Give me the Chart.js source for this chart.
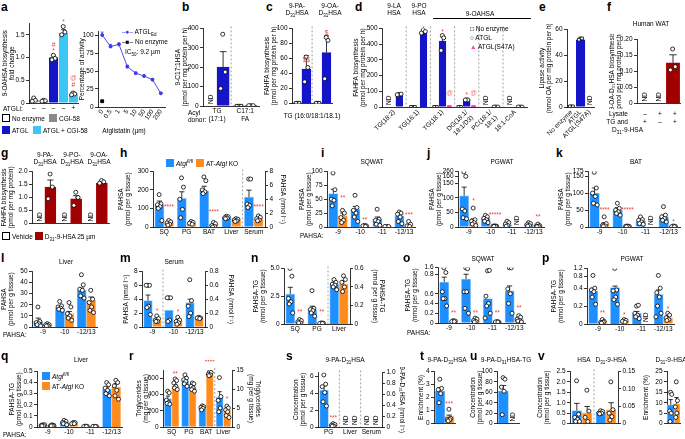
<!DOCTYPE html>
<html><head><meta charset="utf-8">
<script src="https://cdn.jsdelivr.net/npm/chart.js@4.4.0/dist/chart.umd.min.js"></script>
<style>
body{margin:0;width:685px;height:439px;position:relative;background:#fff;font-family:"Liberation Sans",Arial,sans-serif;overflow:hidden}
canvas{position:absolute}
.t{position:absolute;font-size:6.5px;color:#000;white-space:nowrap;line-height:1.15}
.L{position:absolute;font-size:12px;font-weight:bold;line-height:1}
sub,sup{font-size:4.5px}
</style></head><body>
<script>
// ---- data ----
const PA = ['-9', '-10', '-11', '-12/13'];

const aCats = ['–', '–', '–', '–', '+'];
const aVals = [0.06, 0.05, 1.0, 1.53, 0.2];
const aErr = [0.02, 0.01, 0.05, 0.08, 0.03];
const aPts = [[0.11, 0.06, 0.04], [0.06, 0.05, 0.04], [1.05, 0.98, 0.95], [1.68, 1.56, 1.5], [0.22, 0.2, 0.18]];
const aDose = ['0', '0.5', '1', '5', '10', '50', '100', '200'];
const aAct = [100, 84, 87, 56, 47, 43, 38, 19];
const aActErr = [4, 3, 2, 2, 1.5, 1.5, 1.5, 1];
const aNoEnz = [8, null, null, null, null, null, null, null];

const bCats = [['TG', '(17:1)'], ['C17:1', 'FA']];
const bNoEnz = ['ND', 1], bNoEnzPts = [null, [1, 1, 1]];
const bAtgl = [200, 2], bAtglErr = [80, 0], bAtglPts = [[370, 175, 90], [2, 2, 2]];

const cCats = ['', ''];
const cNoEnz = [1, 1], cNoEnzPts = [[1, 1, 1], [1, 1, 1]];
const cAtgl = [46, 68], cAtglErr = [18, 22], cAtglPts = [[62, 48, 29], [88, 84, 33]];

const dCats = ['TG(18:2)', 'TG(16:1)', 'TG(18:1)', ['DG(18:1/', '18:1/D3)'], ['PC(18:1/', '18:1)'], '18:1-CoA'];
const dNoEnz = ['ND', 0, 0, 0, 'ND', 'ND'];
const dNoEnzPts = [null, [0, 0, 0], [0, 0, 0], [0, 0, 0], null, null];
const dAtgl = [80, 475, 420, 45, 0, 0];
const dAtglErr = [3, 8, 25, 3, 0, 0];
const dAtglPts = [[80, 82, 78], [490, 480, 470], [455, 440, 360], [45, 45, 45], [0, 0, 0], [0, 0, 0]];
const dS47A = [null, null, 0, 0, null, null];
const dS47APts = [null, null, [0, 0, 0], [0, 0, 0], null, null];

const eCats = ['No enzyme', 'ATGL', 'ATGL(S47A)'];
const eVals = [0.4, 52, 'ND'], eErr = [0, 1, 0], ePts = [[0.4, 0.4, 0.4], [53, 53, 52], null];

const fCats = ['', '', ''];
const fVals = ['ND', 'ND', 0.127], fErr = [0, 0, 0.025], fPts = [null, null, [0.17, 0.115, 0.105]];

const gCats = ['', '', ''];
const gVeh = ['ND', 'ND', 'ND'];
const gD31 = [1.4, 0.95, 1.55], gD31Err = [0.27, 0.12, 0.05];
const gD31Pts = [[1.9, 1.4, 0.95], [1.2, 1.0, 0.7], [1.65, 1.6, 1.55]];

const hCats = ['SQ', 'PG', 'BAT', 'Liver', 'Serum'];
const hFlox = [120, 155, 195, 52, 4.3], hFloxErr = [20, 35, 25, 4, 1.0];
const hFloxPts = [[175, 125, 120, 110, 100, 35], [265, 215, 150, 95, 50], [270, 250, 200, 190, 180], [58, 55, 50, 48, 45], [6.9, 6.9, 3.3, 3.1, 2.8]];
const hKO = [25, 22, 15, 40, 1.2], hKOErr = [5, 4, 5, 4, 0.15];
const hKOPts = [[35, 28, 22, 15, 10], [30, 25, 20, 15], [25, 18, 8, 3, 0], [45, 42, 38, 33, 30], [1.6, 1.4, 1.2, 1.0, 0.9]];

const iFlox = [60, 32, 14, 20], iFloxErr = [8, 5, 4, 3];
const iFloxPts = [[97, 67, 50, 48, 38], [57, 35, 30, 25, 18, 10], [32, 14, 12, 10, 5, 3], [27, 25, 23, 18, 10, 6]];
const iKO = [20, 2, 1, 3], iKOErr = [5, 0.5, 0.3, 1.5];
const iKOPts = [[30, 25, 17, 12, 8], [3, 2, 2, 1], [1, 1, 1], [10, 5, 2, 1]];

const jFlox = [107, 30, 8, 10], jFloxErr = [30, 5, 3, 3];
const jFloxPts = [[250, 160, 62, 55, 32, 28], [40, 35, 30, 25, 20, 15], [20, 15, 10, 5, 3], [15, 12, 8, 5, 3]];
const jKO = [18, 3, 'ND', 4], jKOErr = [10, 0.5, 0, 2];
const jKOPts = [[65, 25, 20, 15, 10, 5], [4, 3, 3, 2, 2], null, [10, 5, 3, 2, 1]];

const kFlox = [100, 50, 18, 30], kFloxErr = [15, 7, 4, 5];
const kFloxPts = [[170, 115, 100, 90, 70, 65], [70, 55, 50, 45, 40, 35], [30, 22, 20, 15, 10, 8], [60, 35, 30, 25, 20, 15]];
const kKO = [8, 2, 'ND', 2], kKOErr = [5, 0.5, 0, 0.5];
const kKOPts = [[30, 10, 5, 3, 2], [3, 2, 2, 1, 1], null, [3, 2, 1, 1]];

const lCats = ['-9', '-10', '-12/13'];
const lFlox = [5, 17, 33], lFloxErr = [3, 1.5, 2];
const lFloxPts = [[18, 5, 4, 3, 2, 1], [23, 19, 18, 17, 16, 15], [47, 38, 34, 33, 28, 26]];
const lKO = [2, 12, 24], lKOErr = [0.5, 2, 3];
const lKOPts = [[3, 2, 2, 1, 1], [22, 18, 12, 10, 8, 6], [33, 25, 22, 18, 15, 13]];

const mCats = ['-9', '-10', '-12/13'];
const mFlox = [3.8, 0.24, 0.35], mFloxErr = [0.8, 0, 0.05];
const mFloxPts = [[6, 6, 6, 3, 2.8, 1.8], [0.42, 0.42, 0.42, 0.1, 0.08], [0.68, 0.38, 0.3, 0.2, 0.15]];
const mKO = [1.0, 0.08, 0.13], mKOErr = [0.2, 0.03, 0.01];
const mKOPts = [[1.6, 1.2, 1.0, 0.8, 0.8], [0.14, 0.1, 0.08, 0.06, 0.04], [0.14, 0.13, 0.13, 0.12]];

const nCats = ['SQ', 'PG', 'Liver'];
const nFlox = [2.7, 1.3, 0.43], nFloxErr = [0.6, 0.3, 0.02];
const nFloxPts = [[5.0, 4.3, 2.3, 2.0, 1.8, 1.0], [3.0, 1.4, 1.3, 1.2, 1.0, 0.7], [0.48, 0.45, 0.43, 0.42, 0.4, 0.37]];
const nKO = [0.2, 0.05, 0.43], nKOErr = [0.05, 0.01, 0.04];
const nKOPts = [[0.4, 0.3, 0.2, 0.1, 0.1], [0.1, 0.08, 0.05, 0.05], [0.52, 0.48, 0.45, 0.4, 0.35]];

const oFlox = [0.72, 0.75, 0.5, 0.63], oFloxErr = [0.05, 0.05, 0, 0.05];
const oFloxPts = [[1.55, 1.0, 0.62, 0.5, 0.5, 0.35], [1.55, 1.45, 0.62, 0.62, 0.3, 0.2], [1.2, 1.25, 0.55, 0.4, 0.35, 0.2, 0.1], [1.55, 1.55, 0.65, 0.6, 0.4, 0.2]];
const oKO = [0.04, 0.05, 0.02, 0.08], oKOErr = [0.01, 0.01, 0, 0.02];
const oKOPts = [[0.05, 0.04, 0.03, 0.03], [0.1, 0.08, 0.05, 0.03, 0.02], [0.03, 0.02, 0.02, 0.02], [0.15, 0.12, 0.08, 0.05, 0.04, 0.02]];

const pFlox = [0.37, 0.42, 0.12, 0.33], pFloxErr = [0.03, 0.05, 0.02, 0.05];
const pFloxPts = [[0.85, 0.4, 0.38, 0.36, 0.3, 0.22], [1.2, 0.38, 0.37, 0.3, 0.27, 0.22], [0.2, 0.21, 0.12, 0.1, 0.08, 0.06], [0.85, 0.4, 0.35, 0.3, 0.2, 0.12, 0.08]];
const pKO = [0.03, 0.03, 'ND', 0.07], pKOErr = [0.01, 0.01, 0, 0.02];
const pKOPts = [[0.05, 0.03, 0.02, 0.02, 0.01], [0.05, 0.04, 0.03, 0.02], null, [0.12, 0.1, 0.07, 0.05, 0.04]];

const qFlox = [0.015, 0.04, 0.005, 0.34], qFloxErr = [0.003, 0.01, 0.001, 0.02];
const qFloxPts = [[0.02, 0.02, 0.015, 0.01, 0.01], [0.06, 0.05, 0.04, 0.03, 0.03, 0.02], [0.008, 0.006, 0.005, 0.004], [0.4, 0.38, 0.35, 0.33, 0.3, 0.28]];
const qKO = [0.012, 0.035, 0.005, 0.36], qKOErr = [0.003, 0.005, 0.001, 0.03];
const qKOPts = [[0.02, 0.015, 0.01, 0.01, 0.01], [0.04, 0.04, 0.03, 0.03], [0.006, 0.005, 0.005, 0.004], [0.42, 0.4, 0.37, 0.33, 0.28, 0.25]];

const rCats = ['SQ', 'PG', 'BAT', 'Liver'];
const rFlox = [350, 570, 230, 7.8], rFloxErr = [30, 25, 10, 1.5];
const rFloxPts = [[440, 420, 330, 300, 290, 280], [640, 600, 580, 560, 530, 500], [260, 250, 240, 230, 210], [13, 8, 7, 5, 4]];
const rKO = [500, 490, 640, 4.3], rKOErr = [25, 15, 10, 0.5];
const rKOPts = [[590, 570, 540, 500, 480, 460], [540, 530, 500, 480, 460, 440], [680, 670, 650, 640, 630], [5.5, 5, 4.5, 4, 3, 2.5]];

const sCats = ['PG', 'Liver', 'Serum'];
const sFlox = [4.4, 'ND', 'ND'], sFloxErr = [0.5, 0, 0], sFloxPts = [[6.2, 5.1, 4.8, 4.1, 3.0, 2.5], null, null];
const sKO = [0.2, 'ND', 'ND'], sKOErr = [0.05, 0, 0], sKOPts = [[0.4, 0.3, 0.2, 0.1, 0.1], null, null];

const tFlox = [2.5], tFloxErr = [0.25], tFloxPts = [[3.4, 2.7, 2.6, 2.3, 1.6]];
const tKO = [0.55], tKOErr = [0.1], tKOPts = [[1.1, 0.4, 0.3, 0.3, 0.2]];

const uFlox = [63], uFloxErr = [10], uFloxPts = [[88, 85, 70, 62, 17]];
const uKO = ['ND'];

const vFlox = [0.62, 0.033], vFloxErr = [0.35, 0.005], vFloxPts = [[2.05, 0.45, 0.3, 0.2, 0.1, 0.1], [0.037, 0.035, 0.03, 0.03, 0.028]];
const vKO = [0.52, 0.04], vKOErr = [0.3, 0.02], vKOPts = [[1.6, 0.6, 0.3, 0.1], [0.12, 0.04, 0.03, 0.02, 0.01]];
const vEnrFlox = [9], vEnrFloxErr = [2.5], vEnrFloxPts = [[15, 14, 6, 5, 1]];
const vEnrKO = [9.5], vEnrKOErr = [3], vEnrKOPts = [[20, 11, 8, 5, 3]];

// ---- styling ----
const F = '"Liberation Sans", Arial, sans-serif';
const FS = 6.5;
const BLUE = '#1e8fff', ORANGE = '#ff8b1e', NAVY = '#1414c8', CYAN = '#3cc6f6', DRED = '#a00000', PINK = '#ff3cb4', GREY = '#8a8a8a', STAR = '#e8413c';
Chart.defaults.font.family = F;
Chart.defaults.font.size = FS;
Chart.defaults.color = '#000';

const ZZ = [-0.1, 0.6, -0.7, 0.25, -0.4, 0.9, -1, 0.45];

function fmt(ticks) {
	const dec = Math.max(...ticks.map(v => { const s = String(v); return s.includes('.') ? s.split('.')[1].length : 0; }));
	return ticks.map(v => v === 0 ? '0' : v.toFixed(dec));
}
function piecewise(knots) {
	if (!knots) return v => v;
	const [r, d] = knots;
	return v => {
		for (let i = 1; i < r.length; i++) {
			if (v <= r[i] || i === r.length - 1) return d[i - 1] + (v - r[i - 1]) * (d[i] - d[i - 1]) / (r[i] - r[i - 1]);
		}
	};
}
function yAx(ax, tr, pos, w) {
	const labs = ax.labels || fmt(ax.ticks);
	return {
		type: 'linear', position: pos, min: tr(ax.min || 0), max: tr(ax.max),
		afterBuildTicks: s => { s.ticks = ax.ticks.map(v => ({ value: tr(v) })); },
		afterFit: s => { s.width = w; },
		ticks: { font: { size: FS }, color: '#000', padding: 1.5, autoSkip: false, callback: (v, i) => labs[i] },
		grid: { display: true, drawOnChartArea: false, drawTicks: true, tickLength: 3, color: '#000', lineWidth: 0.8 },
		border: { display: true, color: '#000', width: 0.8 },
		title: { display: !!ax.title, text: ax.title, font: { size: FS }, color: '#000', padding: { top: 0, bottom: 2 } },
	};
}

function makeDeco(c) {
	const has = (d, i) => d.data[i] && d.data[i].y != null;
	return {
		id: 'deco',
		afterDatasetDraw(chart, args) {
			const d = chart.data.datasets[args.index];
			if (d.type !== 'bar' || !d.err) return;
			const ctx = chart.ctx, sc = chart.scales[d.yAxisID];
			ctx.save();
			ctx.strokeStyle = '#000';
			ctx.lineWidth = 0.8;
			args.meta.data.forEach((el, i) => {
				const e = d.err[i], v = d.raw[i];
				if (!has(d, i) || !e || typeof v !== 'number') return;
				const top = sc.getPixelForValue(d.tr(v + e));
				const cw = Math.max(1.5, el.width * 0.28);
				ctx.beginPath();
				ctx.moveTo(el.x, el.y); ctx.lineTo(el.x, top);
				ctx.moveTo(el.x - cw, top); ctx.lineTo(el.x + cw, top);
				ctx.stroke();
			});
			ctx.restore();
		},
		afterDatasetsDraw(chart) {
			const ctx = chart.ctx, a = chart.chartArea, xp = chart.scales.xp;
			(c.seps || []).forEach(s => {
				const X = xp.getPixelForValue(s);
				ctx.save();
				ctx.setLineDash([2, 2]);
				ctx.strokeStyle = '#888';
				ctx.lineWidth = 0.8;
				ctx.beginPath(); ctx.moveTo(X, a.top - 2); ctx.lineTo(X, a.bottom); ctx.stroke();
				ctx.restore();
			});
			chart.data.datasets.forEach((d, di) => {
				if (d.type !== 'bar') return;
				chart.getDatasetMeta(di).data.forEach((el, i) => {
					if (!d.nd[i]) return;
					ctx.save();
					ctx.translate(el.x + 2.3, a.bottom - 2);
					ctx.rotate(-Math.PI / 2);
					ctx.font = FS + 'px ' + F;
					ctx.fillStyle = '#000';
					ctx.fillText('ND', 0, 0);
					ctx.restore();
				});
			});
			(c.stars || []).forEach(([i, k, v, t, col]) => {
				const di = chart.data.datasets.findIndex(d => d.type === 'bar' && d.sIdx === k && has(d, i));
				if (di < 0) return;
				const d = chart.data.datasets[di];
				const el = chart.getDatasetMeta(di).data[i];
				const y = chart.scales[d.yAxisID].getPixelForValue(d.tr(v));
				ctx.save();
				ctx.font = FS + 'px ' + F;
				ctx.fillStyle = col || STAR;
				ctx.textAlign = 'center';
				ctx.textBaseline = 'middle';
				ctx.fillText(t, el.x, y);
				ctx.restore();
			});
		},
	};
}

function panel(c) {
	const n = c.cats.length;
	const [x0, y0, x1, y1] = c.plot;
	const yw = c.yw || 30, y2w = c.y2 ? (c.y2w || 24) : 0, xh = c.xh == null ? 10 : c.xh, pt = c.pt || 4, pr = c.y2 ? 0 : (c.pr == null ? 2 : c.pr);
	const W = (x1 - x0) + yw + y2w + pr, H = (y1 - y0) + pt + xh;
	const cv = document.createElement('canvas');
	cv.style.left = (x0 - yw) + 'px';
	cv.style.top = (y0 - pt) + 'px';
	cv.width = W; cv.height = H;
	document.body.appendChild(cv);

	const band = (x1 - x0) / n;
	const tr = { y: piecewise(c.y.knots), y2: v => v };
	const axOf = i => (c.right && c.right.includes(i)) ? 'y2' : 'y';
	const groups = c.y2 ? ['y', 'y2'] : ['y'];
	const cp = c.catPct || 0.86, bp = c.barPct || 0.96;
	// slot of series k inside category i (only series with a value there take a slot)
	const slot = (i, k) => {
		const pres = c.series.map((ss, j) => ss.vals[i] != null ? j : -1).filter(j => j >= 0);
		const np = pres.length, kk = pres.indexOf(k);
		return { cx: i - cp / 2 + (kk + 0.5) * cp / np, w: cp / np };
	};
	const bars = [], pts = [];
	groups.forEach(g => {
		c.series.forEach((s, k) => {
			const own = c.cats.map((_, i) => axOf(i) === g && s.vals[i] != null);
			if (!own.some(Boolean)) return;
			const data = c.cats.map((_, i) => {
				if (!own[i]) return { x: i, y: null };
				const v = s.vals[i];
				return { x: slot(i, k).cx, y: v === 'ND' ? 0 : tr[g](v) };
			});
			const sw = Math.min(...c.cats.map((_, i) => own[i] ? slot(i, k).w : 1));
			bars.push({
				type: 'bar', xAxisID: 'xp', yAxisID: g, data, sIdx: k, raw: s.vals, err: s.err, tr: tr[g],
				nd: s.vals.map((v, i) => v === 'ND' && own[i]),
				backgroundColor: s.color, borderColor: s.border || s.color, borderWidth: s.bw == null ? 0.8 : s.bw,
				grouped: false, barThickness: band * sw * bp, order: 2,
			});
			if (!s.pts) return;
			const pd = [];
			c.cats.forEach((_, i) => {
				const p = s.pts[i];
				if (!own[i] || !p) return;
				const sl = slot(i, k);
				const half = sl.w * bp * 0.3;
				p.forEach((v, j) => pd.push({ x: sl.cx + (p.length > 1 ? ZZ[j % ZZ.length] * half : 0), y: tr[g](v) }));
			});
			pts.push({
				type: 'scatter', xAxisID: 'xp', yAxisID: g, data: pd, order: 1,
				pointStyle: s.ptStyle || 'circle', pointRadius: s.pr || 2,
				backgroundColor: s.ptFill || '#fff', borderColor: s.ptBorder || '#000', borderWidth: 0.8,
			});
		});
	});
	const scales = {
		x: {
			type: 'category', labels: c.cats, offset: true, grid: { display: false, drawTicks: false, offset: true },
			border: { display: true, color: '#000', width: 0.8 },
			ticks: { display: !c.noX, font: { size: FS }, color: '#000', padding: 1.5, autoSkip: false, maxRotation: c.rot || 0, minRotation: c.rot || 0 },
			afterFit: s => { s.height = xh; },
		},
		xp: {
			type: 'linear', display: false, offset: false, grid: { offset: false }, min: -0.5, max: n - 0.5,
			afterDataLimits: s => { s.min = -0.5; s.max = n - 0.5; },
		},
		y: yAx(c.y, tr.y, 'left', yw),
	};
	if (c.y2) scales.y2 = yAx(c.y2, tr.y2, 'right', y2w);
	new Chart(cv, {
		type: 'bar',
		data: { labels: c.cats, datasets: [...pts, ...bars] },
		options: {
			responsive: false, animation: false, events: [],
			layout: { padding: { top: pt, right: pr, left: 0, bottom: 0 } },
			plugins: { legend: { display: false }, tooltip: { enabled: false } },
			scales,
		},
		plugins: [makeDeco(c)],
	});
}

function T(x, y, h, st) {
	const e = document.createElement('div');
	e.className = 't';
	e.style.left = x + 'px';
	e.style.top = y + 'px';
	e.innerHTML = h;
	if (st) e.style.cssText += st;
	document.body.appendChild(e);
}
const C = ';transform:translateX(-50%);text-align:center';
function L(x, y, ch) {
	const e = document.createElement('div');
	e.className = 'L';
	e.style.left = x + 'px';
	e.style.top = y + 'px';
	e.textContent = ch;
	document.body.appendChild(e);
}
function sq(col, border) {
	return `<span style="display:inline-block;width:6px;height:6px;background:${col};border:0.8px solid ${border || col};vertical-align:-1px;margin-right:2px"></span>`;
}

const WHITE = { color: '#fff', border: '#000' };
const flox = (vals, err, p) => ({ vals, err, pts: p, color: BLUE, border: '#9ccfff' });
const ko = (vals, err, p) => ({ vals, err, pts: p, color: ORANGE, border: '#ffc48a' });

// ---- row 1 ----
panel({ plot: [29, 22, 81, 103], yw: 28, xh: 8, cats: aCats,
	series: [{ vals: aVals, err: aErr, pts: aPts, color: ['#fff', GREY, NAVY, CYAN, CYAN], border: ['#000', GREY, NAVY, CYAN, CYAN] }],
	y: { max: 1.75, ticks: [0, 0.5, 1, 1.5], title: ['9-OAHSA biosynthesis', 'fold change'] },
	stars: [[2, 0, 1.27, '#'], [2, 0, 1.13, '*'], [3, 0, 1.78, '*'], [4, 0, 0.55, '@', '#f07070'], [4, 0, 0.4, '#']] });

(function () {
	const cv = document.createElement('canvas');
	cv.style.left = '78px'; cv.style.top = '26px';
	cv.width = 92; cv.height = 96;
	document.body.appendChild(cv);
	new Chart(cv, {
		type: 'line',
		data: { labels: aDose, datasets: [
			{ data: aNoEnz, showLine: false, pointStyle: 'rect', pointRadius: 2, backgroundColor: '#000', borderColor: '#000' },
			{ data: aAct, err: aActErr, borderColor: '#3a3ae8', backgroundColor: '#3a3ae8', borderWidth: 0.9, pointRadius: 1.5, tension: 0 },
		] },
		options: {
			responsive: false, animation: false, events: [],
			layout: { padding: { top: 4, right: 4 } },
			plugins: { legend: { display: false }, tooltip: { enabled: false } },
			scales: {
				x: { offset: true, grid: { display: false, drawTicks: false }, border: { color: '#000', width: 0.8 },
					ticks: { font: { size: FS }, color: '#000', padding: 1, maxRotation: 55, minRotation: 55, autoSkip: false },
					afterFit: s => { s.height = 15; } },
				y: yAx({ max: 105, ticks: [0, 25, 50, 75, 100], title: 'Percentage of activity' }, v => v, 'left', 20),
			},
		},
		plugins: [{ id: 'lerr', afterDatasetsDraw(chart) {
			const ctx = chart.ctx, d = chart.data.datasets[1], sc = chart.scales.y;
			ctx.save(); ctx.strokeStyle = '#3a3ae8'; ctx.lineWidth = 0.8;
			chart.getDatasetMeta(1).data.forEach((el, i) => {
				const t = sc.getPixelForValue(d.data[i] + d.err[i]);
				ctx.beginPath(); ctx.moveTo(el.x, el.y); ctx.lineTo(el.x, t); ctx.moveTo(el.x - 1.5, t); ctx.lineTo(el.x + 1.5, t); ctx.stroke();
			});
			ctx.restore();
		} }],
	});
})();

panel({ plot: [203, 27, 262, 106], yw: 29, xh: 18, cats: bCats,
	series: [{ vals: bNoEnz, pts: bNoEnzPts, ptStyle: 'rect', ...WHITE }, { vals: bAtgl, err: bAtglErr, pts: bAtglPts, color: NAVY }],
	y: { max: 400, ticks: [0, 100, 200, 300, 400], title: ['9-C17:1HSA', '(pmol per mg protein per h)'] }, seps: [0.5] });

panel({ plot: [292, 27, 335, 107], yw: 29, xh: 2, noX: true, cats: cCats,
	series: [{ vals: cNoEnz, pts: cNoEnzPts, ptStyle: 'rect', ...WHITE }, { vals: cAtgl, err: cAtglErr, pts: cAtglPts, color: NAVY }],
	y: { max: 100, ticks: [0, 20, 40, 60, 80, 100], title: ['FAHFA biosynthesis', '(pmol per mg protein per h)'] },
	seps: [0.5], stars: [[0, 1, 58, '$$'], [1, 1, 94, '$']] });

panel({ plot: [382, 27, 530, 107], yw: 30, xh: 36, rot: 45, cats: dCats,
	series: [{ vals: dNoEnz, pts: dNoEnzPts, ptStyle: 'rect', ...WHITE },
		{ vals: dAtgl, err: dAtglErr, pts: dAtglPts, color: NAVY },
		{ vals: dS47A, pts: dS47APts, color: PINK, ptStyle: 'triangle', ptFill: PINK, ptBorder: PINK }],
	y: { max: 500, ticks: [0, 100, 200, 300, 400, 500], title: ['FAHFA biosynthesis', '(pmol per mg protein per h)'] },
	seps: [0.5, 1.5, 2.5, 3.5, 4.5],
	stars: [[1, 1, 497, '*'], [2, 1, 475, '*'], [2, 2, 90, '@', '#f07878'], [3, 1, 75, '*'], [3, 2, 90, '@', '#f07878']] });

panel({ plot: [567, 28, 597, 107], yw: 29, xh: 36, rot: 45, catPct: 0.9, cats: eCats,
	series: [{ vals: eVals, err: eErr, pts: ePts, color: ['#fff', NAVY, '#fff'], border: ['#000', NAVY, '#000'], ptStyle: 'rect' }],
	y: { max: 60, ticks: [0, 20, 40, 60], title: ['Lipase activity', '(nmol OA per mg protein per h)'] } });

panel({ plot: [637, 38, 683, 107], yw: 29, xh: 2, noX: true, catPct: 0.9, cats: fCats,
	series: [{ vals: fVals, err: fErr, pts: fPts, color: DRED }],
	y: { max: 0.2, ticks: [0, 0.05, 0.1, 0.15, 0.2], title: ['9-OA-D₃₁HSA biosynthesis', '(pmol per mg protein per h)'] } });

// ---- row 2 ----
panel({ plot: [32, 170, 112, 227], yw: 32, xh: 2, noX: true, cats: gCats,
	series: [{ vals: gVeh, ...WHITE }, { vals: gD31, err: gD31Err, pts: gD31Pts, color: DRED }],
	y: { max: 2, ticks: [0, 0.5, 1, 1.5, 2], title: ['FAHFA biosynthesis', '(pmol per mg protein)'] } });

panel({ plot: [153, 170, 265, 227], yw: 36, y2w: 22, cats: hCats, right: [4],
	series: [flox(hFlox, hFloxErr, hFloxPts), ko(hKO, hKOErr, hKOPts)],
	y: { max: 300, ticks: [0, 100, 200, 300], title: ['PAHSA', '(pmol per g tissue)'] },
	y2: { max: 8, ticks: [0, 2, 4, 6, 8], title: 'PAHSA (nmol l⁻¹)' },
	seps: [3.5], stars: [[0, 1, 105, '****'], [2, 1, 80, '****'], [4, 1, 2.8, '****']] });

panel({ plot: [327, 170, 418, 227], yw: 29, cats: PA,
	series: [flox(iFlox, iFloxErr, iFloxPts), ko(iKO, iKOErr, iKOPts)],
	y: { max: 100, ticks: [0, 25, 50, 75, 100], title: ['PAHSA', '(pmol per g tissue)'] },
	stars: [[0, 1, 52, '**'], [1, 1, 13, '**'], [3, 1, 22, '***']] });

panel({ plot: [458, 170, 547, 227], yw: 30, cats: PA,
	series: [flox(jFlox, jFloxErr, jFloxPts), ko(jKO, jKOErr, jKOPts)],
	y: { max: 260, knots: [[0, 150, 160, 260], [0, 150, 174, 191]], ticks: [0, 50, 100, 150, 160, 260], title: ['PAHSA', '(pmol per g tissue)'] },
	stars: [[0, 1, 88, '*'], [1, 1, 42, '*****'], [3, 1, 35, '**']] });

panel({ plot: [588, 170, 683, 227], yw: 31, cats: PA,
	series: [flox(kFlox, kFloxErr, kFloxPts), ko(kKO, kKOErr, kKOPts)],
	y: { max: 175, knots: [[0, 150, 175], [0, 150, 164]], ticks: [0, 50, 100, 150, 175], title: ['PAHSA', '(pmol per g tissue)'] },
	stars: [[0, 1, 50, '****'], [1, 1, 50, '*****'], [3, 1, 15, '*']] });

// ---- row 3 ----
panel({ plot: [32, 270, 100, 327], yw: 32, cats: lCats,
	series: [flox(lFlox, lFloxErr, lFloxPts), ko(lKO, lKOErr, lKOPts)],
	y: { max: 50, ticks: [0, 10, 20, 30, 40, 50], title: ['PAHSA', '(pmol per g tissue)'] } });

panel({ plot: [142, 270, 205, 327], yw: 20, y2w: 30, cats: mCats, right: [1, 2],
	series: [flox(mFlox, mFloxErr, mFloxPts), ko(mKO, mKOErr, mKOPts)],
	y: { max: 8, ticks: [0, 2, 4, 6, 8], title: 'PAHSA (nmol l⁻¹)' },
	y2: { max: 0.8, ticks: [0, 0.2, 0.4, 0.6, 0.8], title: 'PAHSA (nmol l⁻¹)' },
	seps: [0.5], stars: [[0, 1, 2.3, '*'], [1, 1, 0.22, '*']] });

panel({ plot: [284, 267, 350, 324], yw: 32, y2w: 36, cats: nCats, right: [2],
	series: [flox(nFlox, nFloxErr, nFloxPts), ko(nKO, nKOErr, nKOPts)],
	y: { max: 5, ticks: [0, 2.5, 5], title: ['PAHSA-TG', '(nmol per g tissue)'] },
	y2: { max: 0.6, ticks: [0, 0.2, 0.4, 0.6], title: ['PAHSA-TG', '(nmol per g tissue)'] },
	seps: [1.5], stars: [[0, 1, 1.05, '**'], [1, 1, 1.05, '**']] });

panel({ plot: [438, 266, 528, 323], yw: 34, cats: PA,
	series: [flox(oFlox, oFloxErr, oFloxPts), ko(oKO, oKOErr, oKOPts)],
	y: { max: 1.6, knots: [[0, 0.6, 0.8, 1.6], [0, 0.6, 1.0, 1.14]], ticks: [0, 0.2, 0.4, 0.6, 0.8, 1.6], title: ['PAHSA-TG', '(nmol per g tissue)'] },
	stars: [[0, 1, 0.2, '**'], [1, 1, 0.2, '**'], [2, 1, 0.2, '**'], [3, 1, 0.3, '**']] });

panel({ plot: [587, 267, 677, 324], yw: 37, cats: PA,
	series: [flox(pFlox, pFloxErr, pFloxPts), ko(pKO, pKOErr, pKOPts)],
	y: { max: 1.2, knots: [[0, 0.4, 0.8, 1.2], [0, 0.4, 0.53, 0.62]], ticks: [0, 0.2, 0.4, 0.8, 1.2], title: ['PAHSA-TG', '(nmol per g tissue)'] },
	stars: [[0, 1, 0.12, '**'], [1, 1, 0.1, '*'], [3, 1, 0.17, '*']] });

// ---- row 4 ----
panel({ plot: [37, 370, 125, 427], yw: 29, xh: 9, cats: PA,
	series: [flox(qFlox, qFloxErr, qFloxPts), ko(qKO, qKOErr, qKOPts)],
	y: { max: 0.5, ticks: [0, 0.1, 0.2, 0.3, 0.4, 0.5], title: ['PAHSA-TG', '(pmol per g tissue)'] } });

panel({ plot: [163, 370, 232, 427], yw: 28, y2w: 30, xh: 9, pt: 10, cats: rCats, right: [3],
	series: [flox(rFlox, rFloxErr, rFloxPts), ko(rKO, rKOErr, rKOPts)],
	y: { max: 700, ticks: [0, 200, 400, 600], title: ['Triglycerides', '(mg per g tissue)'] },
	y2: { max: 15, ticks: [0, 5, 10, 15], title: ['Triglycerides', '(mg per g tissue)'] },
	seps: [2.5], stars: [[0, 1, 650, '**'], [2, 1, 790, '****'], [3, 1, 7.2, '*']] });

panel({ plot: [318, 371, 382, 427], yw: 26, y2w: 24, xh: 9, cats: sCats, right: [1, 2],
	series: [flox(sFlox, sFloxErr, sFloxPts), ko(sKO, sKOErr, sKOPts)],
	y: { max: 6.5, ticks: [0, 2, 4, 6], title: ['Concentration', '(pmol per g tissue)'] },
	y2: { max: 1.0, ticks: [0, 0.2, 0.4, 0.6, 0.8, 1.0], title: '9-PA-D₃₁HSA (nmol l⁻¹)' },
	seps: [0.5, 1.5], stars: [[0, 1, 1.0, '***']] });

panel({ plot: [434, 370, 458, 427], yw: 17, xh: 2, noX: true, cats: [''],
	series: [flox(tFlox, tFloxErr, tFloxPts), ko(tKO, tKOErr, tKOPts)],
	y: { max: 4, ticks: [0, 1, 2, 3, 4], title: 'Enrichment (%)' }, stars: [[0, 1, 1.5, '***']] });

panel({ plot: [497, 370, 522, 427], yw: 28, xh: 2, noX: true, cats: [''],
	series: [flox(uFlox, uFloxErr, uFloxPts), ko(uKO)],
	y: { max: 100, ticks: [0, 20, 40, 60, 80, 100], title: ['Concentration', '(pmol per g tissue)'] } });

panel({ plot: [570, 370, 618, 427], yw: 34, y2w: 22, xh: 2, noX: true, cats: ['HSA', 'D31'], right: [1],
	series: [flox(vFlox, vFloxErr, vFloxPts), ko(vKO, vKOErr, vKOPts)],
	y: { max: 2.5, ticks: [0, 0.5, 1, 1.5, 2, 2.5], title: ['Concentration', '(nmol per g tissue)'] },
	y2: { max: 0.15, ticks: [0, 0.05, 0.1, 0.15] }, seps: [0.5] });

panel({ plot: [667, 370, 685, 427], yw: 25, xh: 2, pr: 0, noX: true, cats: [''],
	series: [flox(vEnrFlox, vEnrFloxErr, vEnrFloxPts), ko(vEnrKO, vEnrKOErr, vEnrKOPts)],
	y: { max: 25, ticks: [0, 5, 10, 15, 20, 25], title: 'Enrichment (%)' } });

// ---- text ----
L(1, 1, 'a'); L(182, 1, 'b'); L(266, 1, 'c'); L(355, 1, 'd'); L(539, 1, 'e'); L(607, 1, 'f');
L(1, 147, 'g'); L(120, 147, 'h'); L(321, 147, 'i'); L(427, 147, 'j'); L(556, 147, 'k');
L(1, 252, 'l'); L(120, 252, 'm'); L(251, 252, 'n'); L(403, 252, 'o'); L(542, 252, 'p');
L(1, 350, 'q'); L(129, 350, 'r'); L(286, 350, 's'); L(420, 350, 't'); L(470, 350, 'u'); L(538, 350, 'v');

T(3, 105, 'ATGLi:');
T(2, 114, sq('#fff', '#000') + 'No enzyme');
T(49, 114, sq(GREY) + 'CGI-58');
T(2, 126, sq(NAVY) + 'ATGL');
T(33, 126, sq(CYAN) + 'ATGL + CGI-58');
T(122, 28, '<span style="color:#3a3ae8">–●–</span> ATGL<sub>Ed</sub>');
T(122, 38, '–■– No enzyme');
T(125, 48, 'IC<sub>50</sub>: 9.2 µm');
T(124, 127, 'Atglistatin (µm)', C);

T(188, 109, 'Acyl<br>donor:');
T(297, 2, '9-PA-<br>D<sub>31</sub>HSA', C);
T(330, 2, '9-OA-<br>D<sub>31</sub>HSA', C);
T(312, 112, 'TG (16:0/18:1/18.1)', C);

T(394, 2, '9-LA<br>HSA', C);
T(419, 2, '9-PO<br>HSA', C);
T(480, 10, '9-OAHSA', C);
T(433, 18, '', ';width:98px;border-top:0.8px solid #000;height:0');
T(470, 25, '□ No enzyme');
T(470, 34, '○ ATGL');
T(470, 43, '<span style="color:' + PINK + '">▲</span> ATGL(S47A)');

T(651, 20, 'Human WAT', C);
T(628, 110, 'Lysate', ';transform:translateX(-100%)');
T(628, 118, 'TG and', ';transform:translateX(-100%)');
T(612, 126, 'D<sub>31</sub>-9-HSA');
T(645, 110, '–', C); T(660, 110, '+', C); T(675, 110, '+', C);
T(645, 118, '+', C); T(660, 118, '–', C); T(675, 118, '+', C);

T(45, 151, '9-PA-<br>D<sub>31</sub>HSA', C);
T(72, 151, '9-PO-<br>D<sub>31</sub>HSA', C);
T(99, 151, '9-OA-<br>D<sub>31</sub>HSA', C);
T(2, 232, sq('#fff', '#000') + 'Vehicle ' + sq(DRED) + 'D<sub>31</sub>-9-HSA 25 µm');
T(166, 159, sq(BLUE) + '<i>Atgl</i><sup>fl/fl</sup>');
T(196, 159, sq(ORANGE) + 'AT-<i>Atgl</i> KO');

T(372, 158, 'SQWAT', C); T(502, 158, 'PGWAT', C); T(636, 158, 'BAT', C);
T(300, 232, 'PAHSA:');
T(66, 258, 'Liver', C); T(174, 258, 'Serum', C); T(483, 255, 'SQWAT', C); T(632, 255, 'PGWAT', C);
T(3, 331, 'PAHSA:'); T(407, 329, 'PAHSA:');

T(81, 356, 'Liver', C);
T(42, 372, sq(BLUE) + '<i>Atgl</i><sup>fl/fl</sup>');
T(42, 382, sq(ORANGE) + 'AT-<i>Atgl</i> KO');
T(3, 431, 'PAHSA:');
T(345, 356, '9-PA-D<sub>31</sub>HSA', C);
T(447, 356, '9-PA-D<sub>31</sub>HSA', C);
T(506, 356, '9-PA-D<sub>31</sub>HSA-TG', C);
T(584, 356, 'HSA', C); T(611, 356, 'D<sub>31</sub>-9-HSA', C); T(671, 356, 'D<sub>31</sub>-9-HSA', C);
</script>
</body></html>
